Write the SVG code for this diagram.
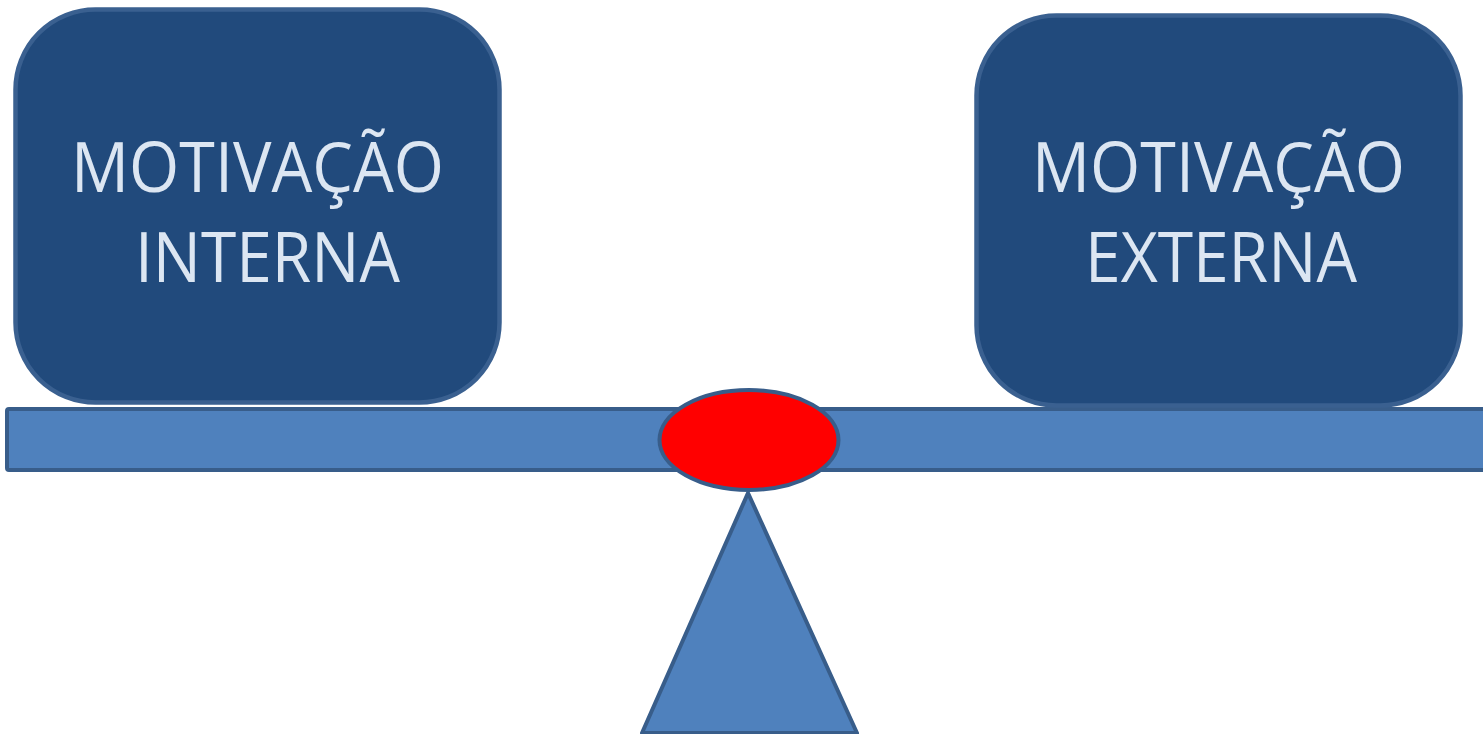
<svg xmlns="http://www.w3.org/2000/svg" width="1483" height="734" viewBox="0 0 1483 734">
<style>
.box{fill:#214A7C;stroke:#3A6090;stroke-width:4.5}
.lbl{font-family:"Open Sans","Liberation Sans",sans-serif;font-size:69px;fill:#DCE6F2;text-anchor:middle}
.part{fill:#4F81BD;stroke:#385D8A;stroke-width:4}
</style>
<rect width="1483" height="734" fill="#FFFFFF"/>
<g id="beam"><rect class="part" x="7" y="409" width="1500" height="61" rx="2"/></g>
<g id="internal">
<rect class="box" x="15.5" y="9.5" width="484" height="393" rx="80"/>
<text class="lbl" x="257.5" y="192" textLength="373" lengthAdjust="spacingAndGlyphs">MOTIVAÇÃO</text>
<text class="lbl" x="267.5" y="282" textLength="265" lengthAdjust="spacingAndGlyphs">INTERNA</text>
</g>
<g id="external">
<rect class="box" x="976.5" y="15.5" width="484" height="390" rx="80"/>
<text class="lbl" x="1218.5" y="192" textLength="373" lengthAdjust="spacingAndGlyphs">MOTIVAÇÃO</text>
<text class="lbl" x="1221" y="282" textLength="272" lengthAdjust="spacingAndGlyphs">EXTERNA</text>
</g>
<g id="fulcrum"><polygon class="part" points="748,493 857,733 642,733" stroke-linejoin="round"/></g>
<g id="pivot"><ellipse cx="749" cy="440" rx="89.5" ry="50" fill="#FF0000" stroke="#385D8A" stroke-width="4"/></g>
<g id="connectors"></g>
</svg>
